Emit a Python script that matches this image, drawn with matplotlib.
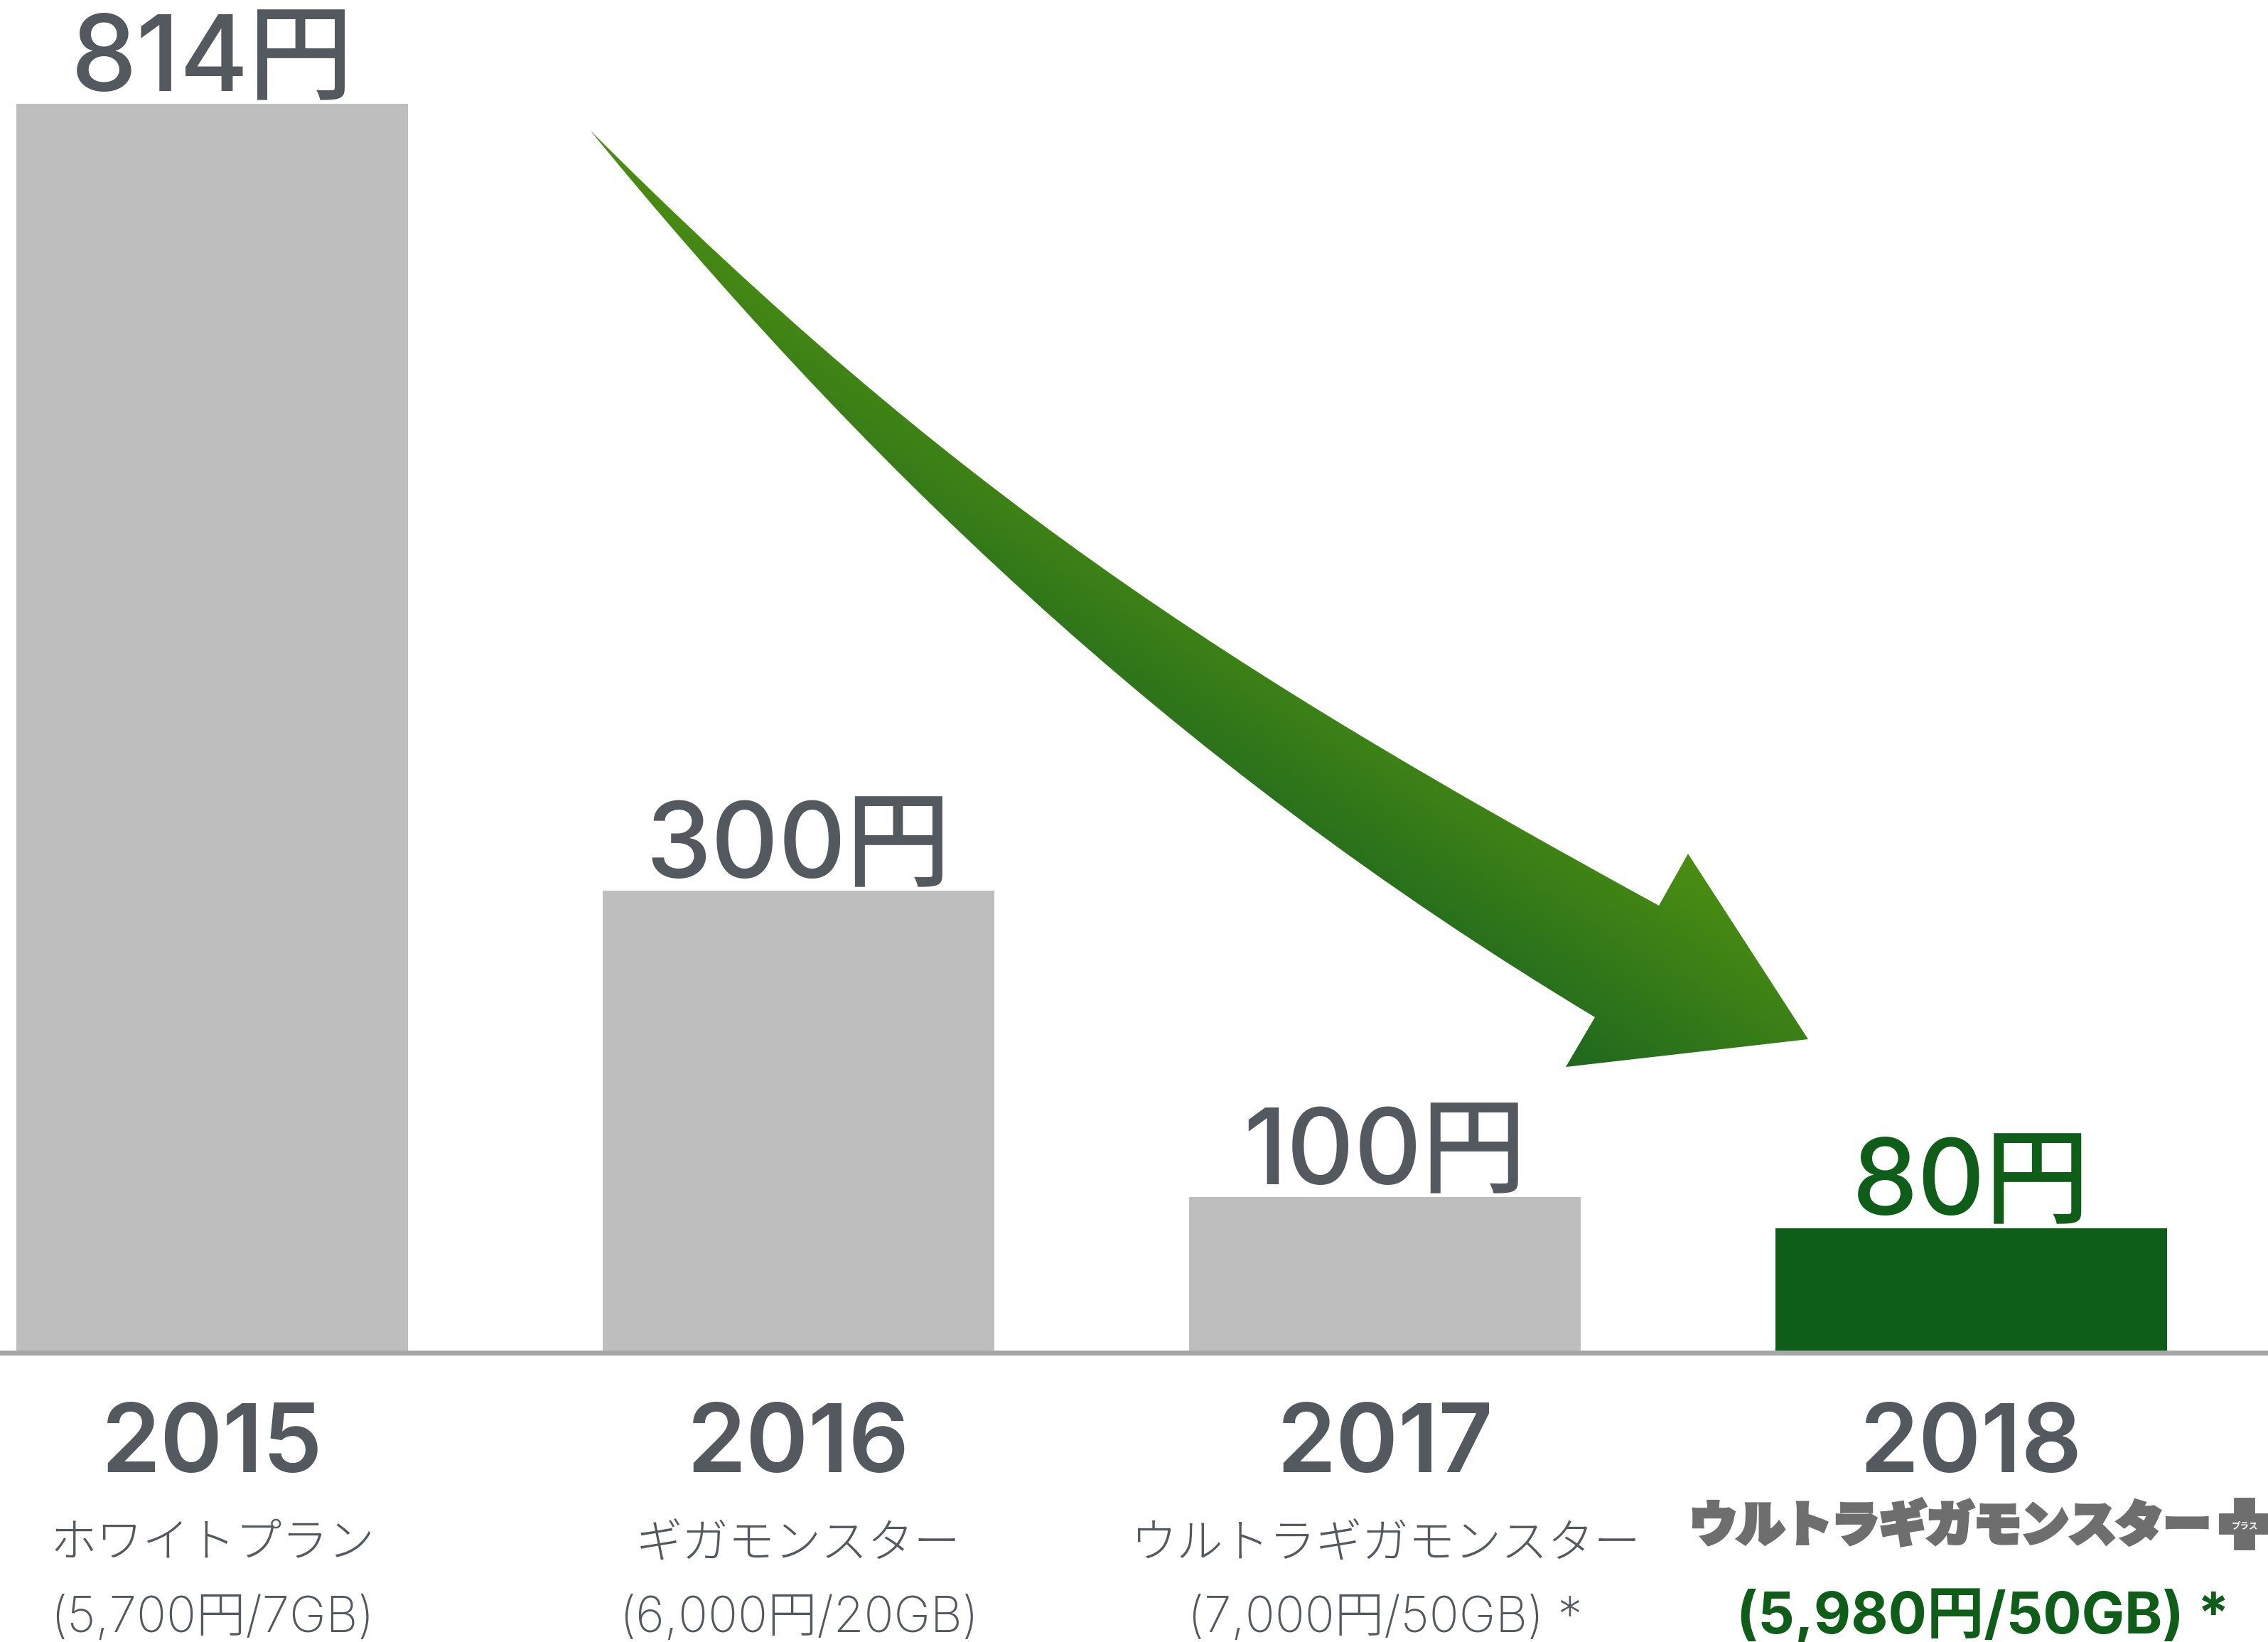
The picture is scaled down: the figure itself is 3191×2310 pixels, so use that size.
import numpy as np
import matplotlib
matplotlib.use("Agg")
import matplotlib.pyplot as plt
import matplotlib.patheffects as pe
from matplotlib.path import Path
from matplotlib.patches import PathPatch
from matplotlib.colors import to_rgb

plt.rcParams["font.family"] = ["Noto Sans CJK JP", "DejaVu Sans"]
LATIN = ["Inter", "Noto Sans CJK JP", "DejaVu Sans"]

# --- data: price per GB (yen) ---
years = ["2015", "2016", "2017", "2018"]
yen_per_gb = [814, 300, 100, 80]
plan_names = ["ホワイトプラン", "ギガモンスター", "ウルトラギガモンスター", "ウルトラギガモンスター＋"]
plan_details = ["(5,700円/7GB)", "(6,000円/20GB)", "(7,000円/50GB) *", "(5,980円/50GB) *"]

GRAY_BAR = "#bebebe"
GREEN = "#0e5e1a"
GRAY_TEXT = "#54585f"
LOGO_GRAY = "#6e6e6e"
BASE_LINE = "#a5a7a7"

W, H = 3191, 2310
fig = plt.figure(figsize=(W / 100, H / 100), dpi=100)
ax = fig.add_axes([0, 0, 1, 1])

x = np.arange(len(years))
colors = [GRAY_BAR] * (len(years) - 1) + [GREEN]
ax.bar(x, yen_per_gb, width=0.667, color=colors, zorder=2)
ax.set_xlim(-0.3618, 3.506)
ax.set_ylim(-190.3, 881.7)
ax.axhline(-1.6, color=BASE_LINE, lw=5.0, zorder=1)
ax.axis("off")

# value labels above bars
for i, v in enumerate(yen_per_gb):
    c = GREEN if i == len(years) - 1 else GRAY_TEXT
    ax.annotate(f"{v}円", (x[i], v), xytext=(0, 13), textcoords="offset points",
                ha="center", va="baseline", fontsize=106, fontweight="medium",
                family=LATIN, color=c)


def fy(px_from_top):
    return (H - px_from_top) / H


tr = ax.get_xaxis_transform()
last = len(years) - 1
for i, yr in enumerate(years):
    ax.text(x[i], fy(2071), yr, transform=tr, ha="center", va="baseline",
            fontsize=96, fontweight="semibold", family=LATIN, color=GRAY_TEXT)
    if i < last:
        ax.text(x[i], fy(2172), plan_names[i], transform=tr, ha="center", va="center",
                fontsize=47, fontweight="light", color=GRAY_TEXT)
        ax.text(x[i], fy(2296), plan_details[i], transform=tr, ha="center", va="baseline",
                fontsize=50, fontweight="light", family=LATIN, color=GRAY_TEXT)

# 2018: logo-style plan name (white "プラス" sits on the plus, as in the logo)
name, plus = plan_names[last][:-1], plan_names[last][-1]
ax.text(x[last] + 0.408, fy(2148), name, transform=tr, ha="right", va="center",
        fontsize=48, fontweight="black", color=LOGO_GRAY,
        path_effects=[pe.withStroke(linewidth=4, foreground=LOGO_GRAY, joinstyle="miter")])
ax.text(x[last] + 0.466, fy(2150), plus, transform=tr, ha="center", va="center",
        fontsize=54, fontweight="black", color=LOGO_GRAY,
        path_effects=[pe.withStroke(linewidth=15, foreground=LOGO_GRAY,
                                    joinstyle="miter", capstyle="butt")])
ax.text(x[last] + 0.466, fy(2147), "プラス", transform=tr, ha="center", va="center",
        fontsize=9, fontweight="bold", color="white")
ax.text(x[last] + 0.02, fy(2298), plan_details[last], transform=tr, ha="center", va="baseline",
        fontsize=58, fontweight="bold", family=LATIN, color=GREEN)

# --- curved gradient arrow (pixel coordinates, y down) ---
deco = fig.add_axes([0, 0, 1, 1])
deco.set_xlim(0, W)
deco.set_ylim(H, 0)
deco.axis("off")

tail = (830, 183)
up_c1, up_c2, up_notch = (1339, 692), (1724, 940), (2334, 1274)
up_barb, tip, low_barb = (2375, 1201), (2544, 1462), (2203, 1501)
low_notch = (2244, 1431)
low_c2, low_c1 = (1634, 1064), (1197, 631)

verts = [tail, up_c1, up_c2, up_notch, up_barb, tip, low_barb, low_notch,
         low_c2, low_c1, tail, tail]
codes = [Path.MOVETO, Path.CURVE4, Path.CURVE4, Path.CURVE4, Path.LINETO, Path.LINETO,
         Path.LINETO, Path.LINETO, Path.CURVE4, Path.CURVE4, Path.CURVE4, Path.CLOSEPOLY]
arrow = PathPatch(Path(verts, codes), facecolor="none", edgecolor="none")
deco.add_patch(arrow)

bx0, bx1, by0, by1 = 820, 2555, 175, 1510
gx = np.linspace(bx0, bx1, 500)
gy = np.linspace(by0, by1, 400)
GX, GY = np.meshgrid(gx, gy)
f = 0.66 * GX - GY
t = np.clip((f + 45) / (365 + 45), 0, 1)
light = np.array(to_rgb("#4c8e12"))
dark = np.array(to_rgb("#1f681f"))
img = dark + t[..., None] * (light - dark)
im = deco.imshow(img, extent=(bx0, bx1, by1, by0), origin="upper",
                 interpolation="bilinear", aspect="auto", zorder=3)
im.set_clip_path(arrow)
deco.set_xlim(0, W)
deco.set_ylim(H, 0)

fig.savefig("out.png", dpi=100, facecolor="white")
